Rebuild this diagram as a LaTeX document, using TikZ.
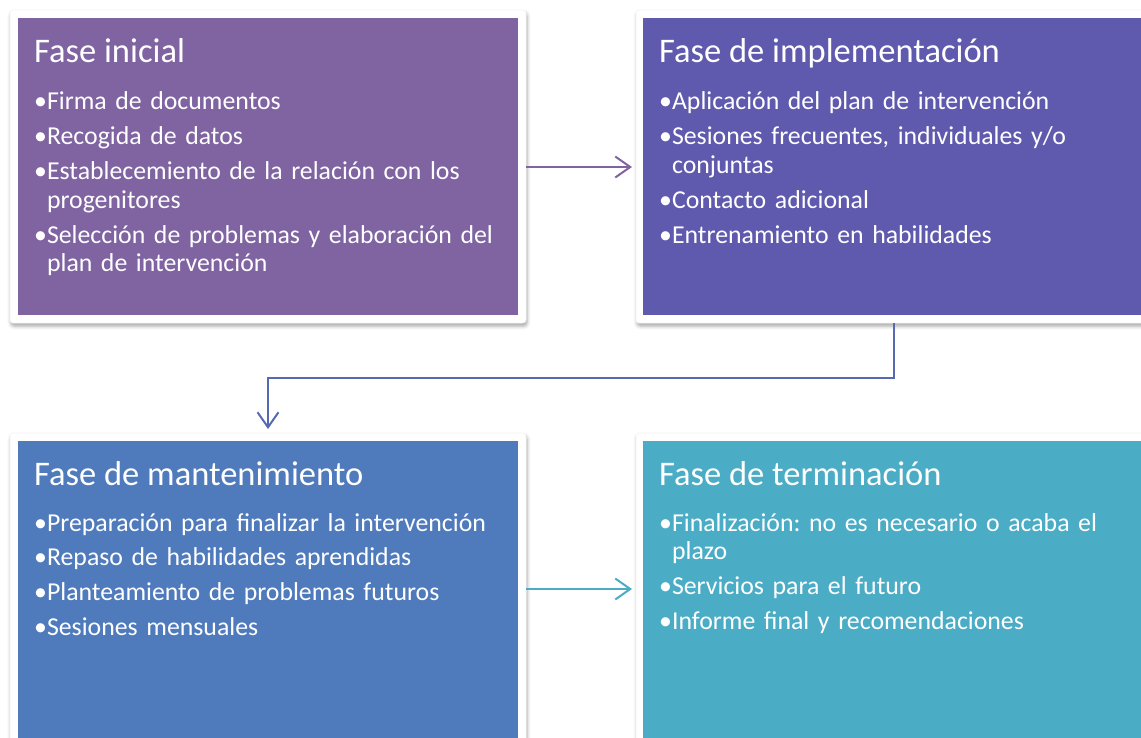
\documentclass[tikz,border=0pt]{standalone}
\usepackage{fontspec}
\setmainfont{Carlito}
\usetikzlibrary{shadows.blur,arrows.meta}
\definecolor{cA}{HTML}{8064A2}
\definecolor{cB}{HTML}{5F5AAD}
\definecolor{cC}{HTML}{4F7BBC}
\definecolor{cD}{HTML}{4BACC6}
\newlength{\bulw}
\newcommand{\bitem}[1]{\settowidth{\bulw}{•}\hangindent=\bulw\hangafter=1\noindent•#1\par}
\tikzset{
  frame/.style={fill=white, draw=black!5, line width=0.5pt, rounded corners=3pt,
    blur shadow={shadow xshift=1pt, shadow yshift=-3pt, shadow blur radius=3.5pt, shadow opacity=35}},
  title/.style={anchor=base west, inner sep=0pt, text=white, font=\fontsize{34.5}{40}\selectfont},
  items/.style={anchor=base west, inner sep=0pt, text=white, text width=478pt, align=left,
     font=\fontsize{25.8}{28.8}\selectfont\frenchspacing\setlength{\parskip}{6pt}},
  conn/.style={line width=2pt, -{Straight Barb[length=15pt,width=21pt,line width=2pt]}}
}
\begin{document}
\begin{tikzpicture}[x=1pt,y=-1pt]
\useasboundingbox (0,0) rectangle (1141,738);
\clip (0,0) rectangle (1141,738);
% frames
\path[frame] (10,10) rectangle (526,323);
\path[frame] (636,10) rectangle (1160,323);
\path[frame] (10,433) rectangle (526,760);
\path[frame] (636,433) rectangle (1160,760);
% coloured boxes
\fill[cA] (18,18) rectangle (518,315);
\fill[cB] (643,18) rectangle (1150,315);
\fill[cC] (18,441) rectangle (518,750);
\fill[cD] (643,441) rectangle (1150,750);
\coordinate (b1e) at (526,167);
\coordinate (b2w) at (632,167);
\coordinate (b2s) at (894,323);
\coordinate (b3n) at (268,429);
\coordinate (b3e) at (526,589);
\coordinate (b4w) at (632,589);
% titles
\node[title] (t1) at (34,63) {Fase inicial};
\node[title] (t2) at (659,63) {Fase de implementación};
\node[title] (t3) at (34,485) {Fase de mantenimiento};
\node[title] (t4) at (659,485) {Fase de terminación};
% items
\node[items] (i1) at (34,110) {\bitem{Firma de documentos}\bitem{Recogida de datos}\bitem{Establecemiento de la relación con los\newline progenitores}\bitem{Selección de problemas y elaboración del\newline plan de intervención}};
\node[items] (i2) at (659,110) {\bitem{Aplicación del plan de intervención}\bitem{Sesiones frecuentes, individuales y/o\newline conjuntas}\bitem{Contacto adicional}\bitem{Entrenamiento en habilidades}};
\node[items] (i3) at (34,531) {\bitem{Preparación para finalizar la intervención}\bitem{Repaso de habilidades aprendidas}\bitem{Planteamiento de problemas futuros}\bitem{Sesiones mensuales}};
\node[items] (i4) at (659,531) {\bitem{Finalización: no es necesario o acaba el\newline plazo}\bitem{Servicios para el futuro}\bitem{Informe final y recomendaciones}};
% connectors
\draw[conn, cA] (b1e) -- (b2w);
\draw[conn, cB!55!cC] (b2s) |- (581,378) -| (b3n);
\draw[conn, cD] (b3e) -- (b4w);
\end{tikzpicture}
\end{document}
